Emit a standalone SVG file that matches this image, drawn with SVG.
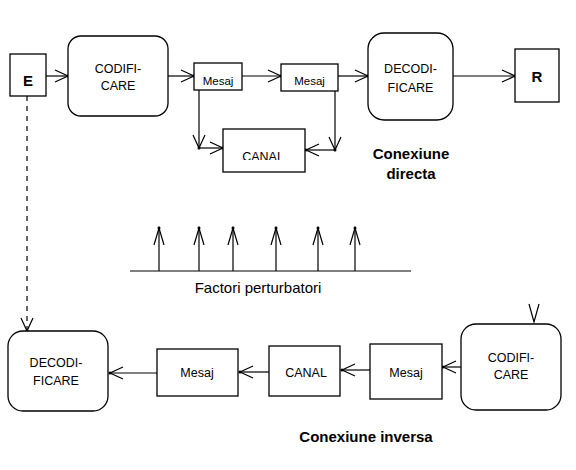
<svg xmlns="http://www.w3.org/2000/svg" width="576" height="470" viewBox="0 0 576 470">
<style>
.box{fill:#fff;stroke:#000;stroke-width:1.3}
.t{font-family:"Liberation Sans",Arial,sans-serif;font-size:12.5px;fill:#000;text-anchor:middle}
.b{font-family:"Liberation Sans",Arial,sans-serif;font-size:15px;font-weight:bold;fill:#000;text-anchor:middle}
.c{fill:none;stroke:#000;stroke-width:1.2}
.d{fill:none;stroke:#000;stroke-width:1.2;stroke-dasharray:5 5}
</style>
<defs>
<marker id="a" markerUnits="userSpaceOnUse" markerWidth="16" markerHeight="16" viewBox="-14 -8 16 16" refX="0" refY="0" orient="auto">
<path d="M-13,-6 L0,0 L-13,6" fill="none" stroke="#000" stroke-width="1.2"/>
<circle cx="0" cy="0" r="1.5" fill="#000"/>
</marker>
<marker id="u" markerUnits="userSpaceOnUse" markerWidth="20" markerHeight="14" viewBox="-18 -7 20 14" refX="0" refY="0" orient="auto">
<path d="M-17,-5 L0,0 L-17,5" fill="none" stroke="#000" stroke-width="1.2"/>
<circle cx="0" cy="0" r="1.5" fill="#000"/>
</marker>
<clipPath id="clipCanal"><rect x="223" y="129" width="82" height="31"/></clipPath>
</defs>

<g id="connectors">
<line class="c" x1="46" y1="76" x2="68" y2="76" marker-end="url(#a)"/>
<line class="c" x1="168" y1="76" x2="194" y2="76" marker-end="url(#a)"/>
<line class="c" x1="242" y1="76" x2="281" y2="76" marker-end="url(#a)"/>
<line class="c" x1="338" y1="76" x2="368" y2="76" marker-end="url(#a)"/>
<line class="c" x1="453" y1="76" x2="515" y2="76" marker-end="url(#a)"/>
<line class="c" x1="199" y1="90" x2="199" y2="148" marker-end="url(#a)"/>
<line class="c" x1="199" y1="148" x2="223" y2="148" marker-end="url(#a)"/>
<line class="c" x1="335" y1="91" x2="335" y2="150" marker-end="url(#a)"/>
<line class="c" x1="335" y1="150" x2="306" y2="150" marker-end="url(#a)"/>
<line class="d" x1="27" y1="96" x2="27" y2="331" marker-end="url(#a)"/>
<line class="c" x1="157" y1="373" x2="110" y2="373" marker-end="url(#a)"/>
<line class="c" x1="269" y1="372" x2="240" y2="372" marker-end="url(#a)"/>
<line class="c" x1="370" y1="370" x2="342" y2="370" marker-end="url(#a)"/>
<line class="c" x1="461" y1="367" x2="443" y2="367" marker-end="url(#a)"/>
<path class="c" d="M529,304 L534,322 L539,304"/>
<line class="c" x1="130" y1="271" x2="411" y2="271"/>
<line class="c" x1="159" y1="271" x2="159" y2="228" marker-end="url(#u)"/>
<line class="c" x1="199" y1="271" x2="199" y2="228" marker-end="url(#u)"/>
<line class="c" x1="233" y1="271" x2="233" y2="228" marker-end="url(#u)"/>
<line class="c" x1="276" y1="271" x2="276" y2="228" marker-end="url(#u)"/>
<line class="c" x1="318" y1="271" x2="318" y2="228" marker-end="url(#u)"/>
<line class="c" x1="355" y1="271" x2="355" y2="228" marker-end="url(#u)"/>
</g>

<g id="E"><rect class="box" x="10" y="54" width="36" height="42"/><text class="b" x="28" y="86">E</text></g>
<g id="codificare1"><rect class="box" x="68" y="36" width="100" height="80" rx="13"/><text class="t" x="118" y="73">CODIFI-</text><text class="t" x="118" y="90">CARE</text></g>
<g id="mesaj1"><rect class="box" x="194" y="63" width="48" height="27"/><text class="t" x="218" y="85" style="font-size:11.5px">Mesaj</text></g>
<g id="mesaj2"><rect class="box" x="281" y="64" width="57" height="27"/><text class="t" x="309.5" y="85" style="font-size:11.5px">Mesaj</text></g>
<g id="canal1"><rect class="box" x="223" y="129" width="82" height="43"/><text class="t" x="263" y="161" clip-path="url(#clipCanal)">CANAL</text></g>
<g id="decodificare1"><rect class="box" x="368" y="33" width="85" height="87" rx="16"/><text class="t" x="410.5" y="73">DECODI-</text><text class="t" x="410.5" y="92">FICARE</text></g>
<g id="R"><rect class="box" x="515" y="49" width="44" height="53"/><text class="b" x="537" y="82">R</text></g>
<g id="label-directa"><text class="b" x="411" y="159">Conexiune</text><text class="b" x="411" y="179">directa</text></g>
<g id="label-factori"><text class="t" x="258" y="293" style="font-size:15px">Factori perturbatori</text></g>
<g id="decodificare2"><rect class="box" x="8" y="331" width="100" height="80" rx="15"/><text class="t" x="56" y="367">DECODI-</text><text class="t" x="56" y="385">FICARE</text></g>
<g id="mesaj3"><rect class="box" x="157" y="349" width="81" height="47"/><text class="t" x="197" y="377">Mesaj</text></g>
<g id="canal2"><rect class="box" x="269" y="346" width="71" height="50"/><text class="t" x="306" y="377">CANAL</text></g>
<g id="mesaj4"><rect class="box" x="370" y="344" width="72" height="55"/><text class="t" x="406" y="377">Mesaj</text></g>
<g id="codificare2"><rect class="box" x="461" y="324" width="100" height="86" rx="15"/><text class="t" x="511" y="362">CODIFI-</text><text class="t" x="511" y="379">CARE</text></g>
<g id="label-inversa"><text class="b" x="366" y="442">Conexiune inversa</text></g>
</svg>
